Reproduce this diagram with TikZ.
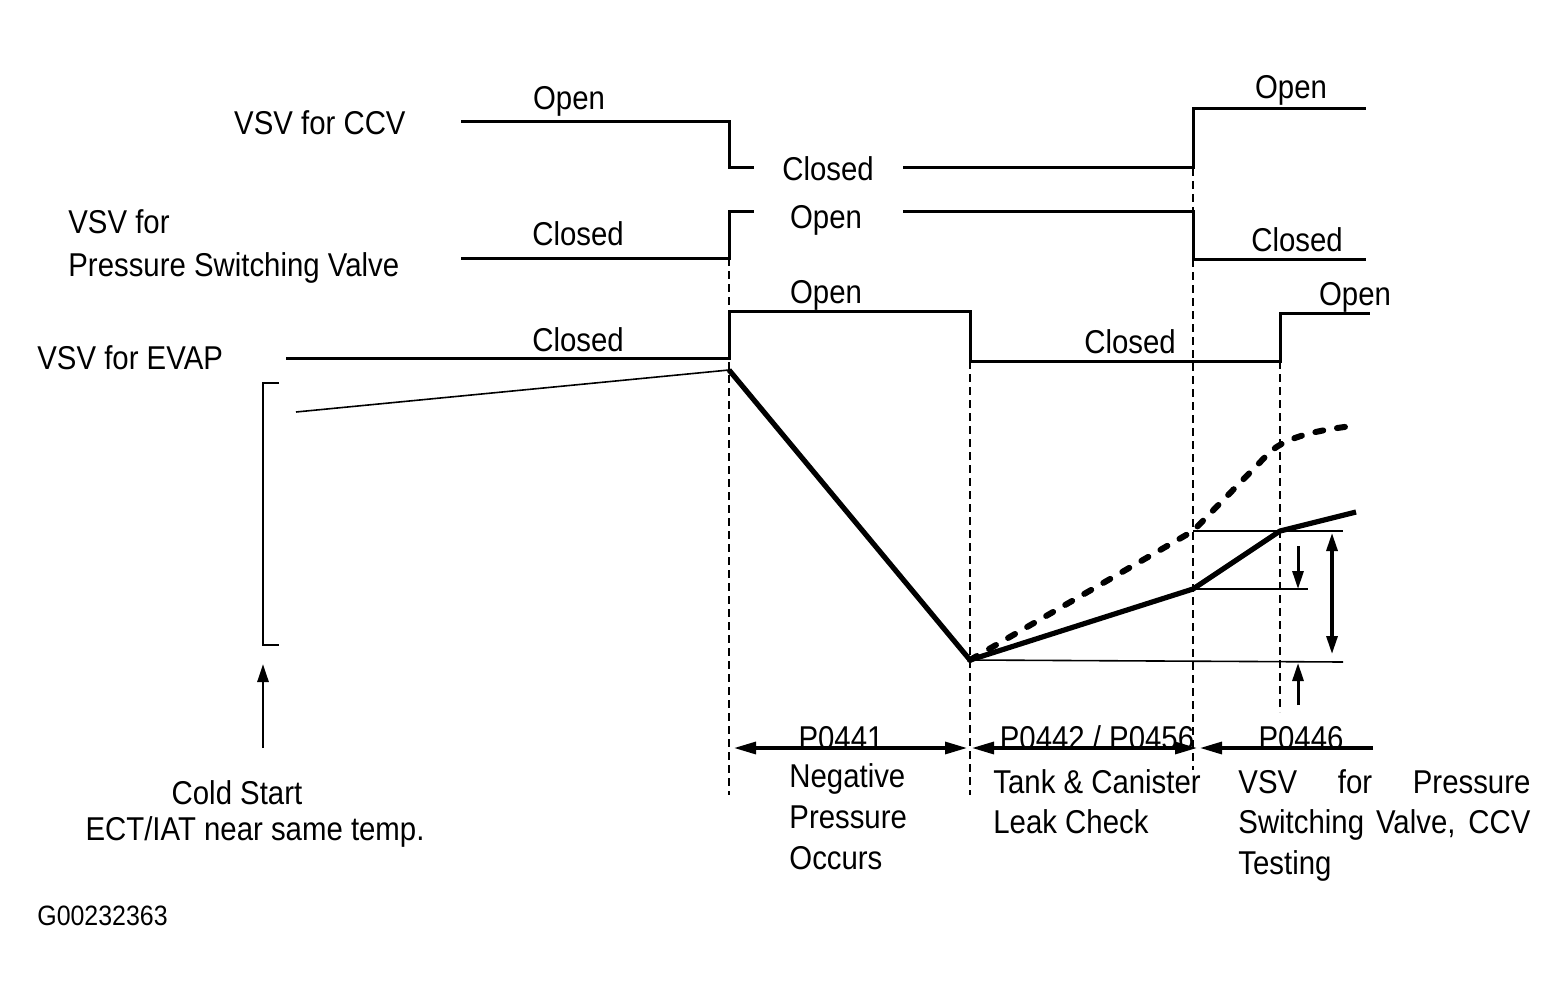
\documentclass[tikz,border=0pt]{standalone}
\usepackage{fontspec}
\setmainfont{Liberation Sans}[FakeStretch=0.89]
\usetikzlibrary{arrows.meta}
\begin{document}
\begin{tikzpicture}[x=0.5pt,y=-0.5pt,
  sig/.style={line width=1.5pt},
  thinline/.style={line width=0.8pt},
  vdash/.style={line width=0.75pt, dash pattern=on 4pt off 2.5pt},
  press/.style={line width=2.6pt, line join=round},
  pdash/.style={line width=3pt, line cap=round, dash pattern=on 4pt off 7pt},
  lbl/.style={font=\fontsize{16.5}{19}\selectfont, inner sep=0pt},
  small/.style={font=\fontsize{14}{16}\selectfont, inner sep=0pt},
  tip/.style={-{Triangle[length=11pt,width=6pt]}},
  tips/.style={{Triangle[length=11pt,width=6pt]}-{Triangle[length=11pt,width=6pt]}},
  vtip/.style={-{Triangle[length=9pt,width=5.5pt]}},
  vtips/.style={{Triangle[length=9pt,width=5.5pt]}-{Triangle[length=9pt,width=5.5pt]}}]
\useasboundingbox (0,0) rectangle (1567,1000);

% dashed vertical guides
\draw[vdash] (729,258) -- (729,795);
\draw[vdash] (970,361) -- (970,795);
\draw[vdash] (1193,168) -- (1193,770);
\draw[vdash] (1280,361) -- (1280,712);

% VSV for CCV
\draw[sig] (461,122) -- (729,122) -- (729,168) -- (754,168);
\draw[sig] (903,168) -- (1193,168) -- (1193,109) -- (1366,109);
% VSV for Pressure Switching Valve
\draw[sig] (461,258) -- (729,258) -- (729,212) -- (754,212);
\draw[sig] (903,212) -- (1193,212) -- (1193,259) -- (1366,259);
% VSV for EVAP
\draw[sig] (286,358) -- (729,358) -- (729,311) -- (970,311) -- (970,361) -- (1280,361) -- (1280,313) -- (1370,313);

% row labels
\node[lbl, anchor=base east] (lccv) at (406,135) {VSV for CCV};
\node[lbl, anchor=base west] (lpsv1) at (68,234) {VSV for};
\node[lbl, anchor=base west] (lpsv2) at (68,276) {Pressure Switching Valve};
\node[lbl, anchor=base west] (levap) at (37,369) {VSV for EVAP};

% state labels
\node[lbl, anchor=base] (s1) at (569,110) {Open};
\node[lbl, anchor=base] (s2) at (828,181) {Closed};
\node[lbl, anchor=base] (s3) at (1291,99) {Open};
\node[lbl, anchor=base] (s4) at (578,245) {Closed};
\node[lbl, anchor=base] (s5) at (826,228) {Open};
\node[lbl, anchor=base] (s6) at (1297,251) {Closed};
\node[lbl, anchor=base] (s7) at (578,351) {Closed};
\node[lbl, anchor=base] (s8) at (826,303) {Open};
\node[lbl, anchor=base] (s9) at (1130,353) {Closed};
\node[lbl, anchor=base] (s10) at (1355,305) {Open};

% pressure curve
\coordinate (p0) at (296,412);
\coordinate (p1) at (729,370);
\coordinate (p2) at (970,660);
\coordinate (p3) at (1193,589);
\coordinate (p4) at (1280,531);
\coordinate (p5) at (1356,512);
\coordinate (q3) at (1193,531);
\draw[thinline] (p0) -- (p1);
\draw[press] (p1) -- (p2) -- (p3) -- (p4) -- (p5);
\draw[pdash] (p2) -- (q3) -- (1270,452) .. controls (1288,436) and (1320,430) .. (1352,426);

% reference lines
\draw[thinline] (q3) -- (1343,531);
\draw[thinline] (p3) -- (1308,589);
\draw[thinline] (p2) -- (1343,662);

% small arrows
\draw[line width=1.5pt, vtip] (1298,546) -- (1298,589);
\draw[line width=1.5pt, vtip] (1298,705) -- (1298,663);
\draw[line width=1.6pt, vtips] (1332,533) -- (1332,654);

% left bracket and cold start arrow
\draw[thinline] (279,383) -- (263,383) -- (263,645) -- (279,645);
\draw[line width=1.4pt, vtip] (263,748) -- (263,664);
\node[lbl, anchor=base] (cs1) at (237,804) {Cold Start};
\node[lbl, anchor=base] (cs2) at (255,840) {ECT/IAT near same temp.};

% bottom phase arrows
\draw[line width=1.6pt, tips] (734,748) -- (967,748);
\draw[line width=1.6pt, tips] (972,748) -- (1197,748);
\draw[line width=1.6pt, tip] (1373,748) -- (1200,748);

\node[lbl, anchor=base] (c1) at (841,749) {P0441};
\node[lbl, anchor=base west] (c1a) at (789,787) {Negative};
\node[lbl, anchor=base west] (c1b) at (789,828) {Pressure};
\node[lbl, anchor=base west] (c1c) at (789,869) {Occurs};

\node[lbl, anchor=base] (c2) at (1097,749) {P0442 / P0456};
\node[lbl, anchor=base west] (c2a) at (993,793) {Tank \& Canister};
\node[lbl, anchor=base west] (c2b) at (993,833) {Leak Check};

\node[lbl, anchor=base] (c3) at (1301,749) {P0446};
\node[lbl, anchor=base west] (c3a) at (1238,793) {\makebox[146pt][s]{VSV for Pressure}};
\node[lbl, anchor=base west] (c3b) at (1238,833) {\makebox[146pt][s]{Switching Valve, CCV}};
\node[lbl, anchor=base west] (c3c) at (1238,874) {Testing};

\node[small, anchor=base west] (code) at (37,925) {G00232363};
\end{tikzpicture}
\end{document}
